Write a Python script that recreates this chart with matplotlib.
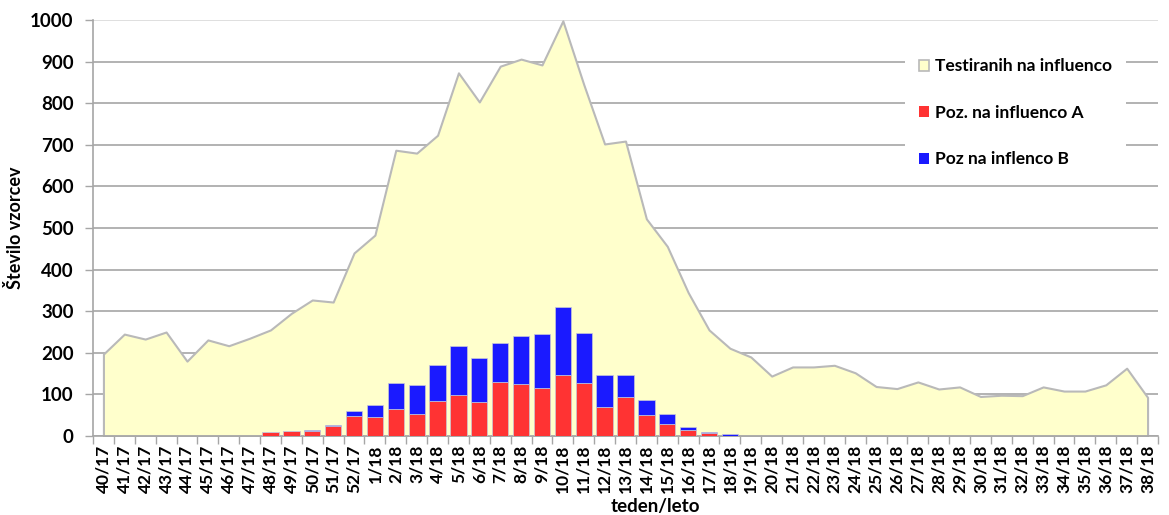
import numpy as np
import matplotlib.pyplot as plt
from matplotlib.patches import Patch

plt.rcParams['font.family'] = ['Lato', 'DejaVu Sans']

# ---- data ----
weeks = [f"{w}/17" for w in range(40, 53)] + [f"{w}/18" for w in range(1, 39)]

tested = [197, 245, 233, 250, 180, 231, 217, 235, 255, 295, 327, 322, 440,
          483, 687, 680, 723, 873, 803, 889, 906, 892, 998, 845, 702, 709,
          522, 456, 345, 255, 211, 190, 144, 166, 166, 170, 152, 119, 114,
          130, 113, 118, 95, 98, 97, 118, 108, 108, 123, 163, 93]

poz_a = [1, 0, 0, 0, 0, 0, 0, 0, 9, 12, 12, 25, 49,
         46, 66, 54, 84, 98, 82, 131, 126, 115, 147, 128, 70, 94,
         50, 30, 15, 8, 1, 0, 0, 0, 0, 0, 0, 0, 0,
         0, 0, 0, 0, 0, 0, 0, 0, 0, 0, 0, 0]

poz_b = [0, 0, 0, 0, 0, 0, 0, 1, 0, 0, 3, 2, 10,
         28, 62, 68, 86, 119, 106, 93, 114, 129, 162, 120, 77, 53,
         37, 24, 6, 2, 3, 0, 0, 1, 0, 0, 0, 0, 0,
         0, 0, 0, 0, 0, 0, 0, 0, 0, 0, 0, 0]

x = np.arange(len(weeks))

fig = plt.figure(figsize=(11.69, 5.15), dpi=100)
ax = fig.add_axes([93 / 1169, 1 - 436 / 515, 1065 / 1169, 416 / 515])

grid_col = '#a6a6a6'

# area: tested samples
ax.fill_between(x, tested, 0, facecolor='#ffffcc', edgecolor='#b9b9b9',
                linewidth=1.5, zorder=2)

# stacked bars
ax.bar(x, poz_a, width=0.78, color='#ff3333', edgecolor='#c8c8d8',
       linewidth=0.5, zorder=3)
ax.bar(x, poz_b, width=0.78, bottom=poz_a, color='#1a1aff',
       edgecolor='#c8c8d8', linewidth=0.5, zorder=3)

# axes
ax.set_xlim(-0.5, len(weeks) - 0.5)
ax.set_ylim(0, 1000)
ax.set_yticks(np.arange(0, 1001, 100))
ax.set_xticks(x)
ax.set_xticklabels(weeks, rotation=90, fontsize=12.5, fontweight='bold')
ax.set_xticks(np.arange(-0.5, len(weeks)), minor=True)
ax.tick_params(axis='x', which='major', length=0, pad=6)
ax.tick_params(axis='x', which='minor', length=6, color=grid_col, width=1)
ax.tick_params(axis='y', length=6, color=grid_col, width=1, labelsize=13.5, pad=8)
for lab in ax.get_yticklabels():
    lab.set_fontweight('bold')

ax.yaxis.grid(True, color=grid_col, linewidth=1.2, zorder=0)
ax.get_ygridlines()[-1].set_color('#d9d9d9')
ax.set_axisbelow(True)

for side in ['top', 'right']:
    ax.spines[side].set_visible(False)
for side in ['left', 'bottom']:
    ax.spines[side].set_color(grid_col)
    ax.spines[side].set_linewidth(1.2)

ax.set_ylabel('Število vzorcev', fontsize=13, fontweight='bold', labelpad=4)
ax.set_xlabel('teden/leto', fontsize=13.5, fontweight='bold')
ax.xaxis.set_label_coords(0.528, -0.148)

handles = [Patch(facecolor='#ffffcc', edgecolor='#b9b9b9', linewidth=1.2),
           Patch(facecolor='#ff3333'),
           Patch(facecolor='#1a1aff')]
labels = ['Testiranih na influenco', 'Poz. na influenco A', 'Poz na inflenco B']
leg = ax.legend(handles, labels, loc='upper left', bbox_to_anchor=(0.754, 0.962),
                frameon=True, facecolor='white', edgecolor='none', framealpha=1,
                fancybox=False, prop={'weight': 'bold', 'size': 12.5},
                handlelength=0.6, handleheight=0.6, handletextpad=0.35,
                labelspacing=1.75, borderpad=0.8)
leg.set_zorder(5)

fig.savefig('out.png', dpi=100)
